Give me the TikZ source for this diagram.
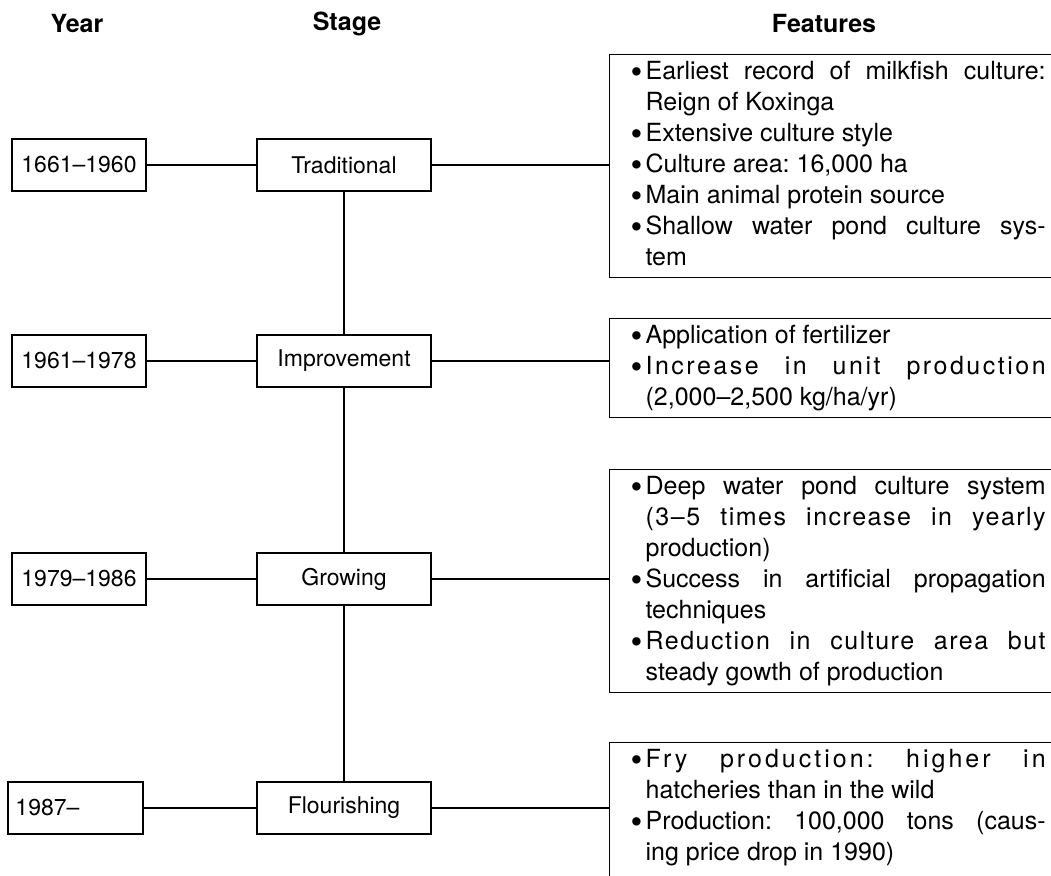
\documentclass[tikz,border=0pt]{standalone}
\usepackage{fontspec}
\setmainfont{TeX Gyre Heros}
\frenchspacing

% feature lines: bullet column + fixed-width (justified or ragged) line
\newlength\featw
\setlength\featw{400pt}
\newcommand\bul{\makebox[15pt][l]{\raisebox{-4.5pt}{\scalebox{1.35}{\textbullet}}}}
\newcommand\itm[2][s]{\bul\makebox[\featw][#1]{\strut #2}}
\newcommand\cnt[2][s]{\makebox[15pt]{}\makebox[\featw][#1]{\strut #2}}
\newcommand\spaced[2]{{\addfontfeature{LetterSpace=#1}#2}}

\tikzset{
  rule/.style={line width=1.3pt, black},
  yearbox/.style={rule, draw, rectangle, minimum width=134pt, minimum height=52pt,
    inner sep=0pt, font=\fontsize{23}{28}\selectfont},
  stagebox/.style={yearbox, minimum width=174pt},
  featbox/.style={rule, draw, rectangle, anchor=north west, align=left,
    inner xsep=21pt, inner ysep=3pt, font=\fontsize{25}{31}\selectfont},
  head/.style={font=\bfseries\fontsize{25}{30}\selectfont, inner sep=0pt},
}

\begin{document}
\begin{tikzpicture}[x=1pt, y=-1pt]
  \useasboundingbox (0,0) rectangle (1051,875);
  \fill[white] (0,0) rectangle (1051,875);
  \clip (0,0) rectangle (1051,875);

  % column headings
  \node[head] (hyear)  at (77,24)  {Year};
  \node[head] (hstage) at (347,24) {Stage};
  \node[head] (hfeat)  at (824,24) {Features};

  % year boxes
  \node[yearbox] (y1) at (79,165) {1661–1960};
  \node[yearbox] (y2) at (79,361) {1961–1978};
  \node[yearbox] (y3) at (79,579) {1979–1986};
  \node[yearbox, minimum width=135pt] (y4) at (75.5,808) {\makebox[120pt][l]{1987–}};

  % stage boxes
  \node[stagebox] (s1) at (344,165) {Traditional};
  \node[stagebox] (s2) at (344,361) {Improvement};
  \node[stagebox] (s3) at (344,579) {Growing};
  \node[stagebox] (s4) at (344,808) {Flourishing};

  % feature boxes (open to the right)
  \node[featbox] (f1) at (609,54) {%
    \itm{Earliest record of milkfish culture:}\\
    \cnt[l]{Reign of Koxinga}\\
    \itm[l]{Extensive culture style}\\
    \itm[l]{Culture area: 16,000 ha}\\
    \itm[l]{Main animal protein source}\\
    \itm{Shallow water pond culture sys-}\\
    \cnt[l]{tem}};

  \node[featbox] (f2) at (609,318) {%
    \itm[l]{Application of fertilizer}\\
    \itm{\spaced{10}{Increase in unit production}}\\
    \cnt[l]{(2,000–2,500 kg/ha/yr)}};

  \node[featbox] (f3) at (609,469) {%
    \itm{Deep water pond culture system}\\
    \cnt{\spaced{6}{(3–5 times increase in yearly}}\\
    \cnt[l]{production)}\\
    \itm{Success in artificial propagation}\\
    \cnt[l]{techniques}\\
    \itm{\spaced{6}{Reduction in culture area but}}\\
    \cnt[l]{steady gowth of production}};

  \node[featbox] (f4) at (609,742) {%
    \itm{\spaced{12}{Fry production: higher in}}\\
    \cnt[l]{hatcheries than in the wild}\\
    \itm{Production: 100,000 tons (caus-}\\
    \cnt[l]{ing price drop in 1990)\rule[-40pt]{0pt}{0pt}}};

  % year to stage links
  \draw[rule] (y1) -- (s1);
  \draw[rule] (y2) -- (s2);
  \draw[rule] (y3) -- (s3);
  \draw[rule] (y4) -- (s4);

  % stage trunk
  \draw[rule] (s1) -- (s2);
  \draw[rule] (s2) -- (s3);
  \draw[rule] (s3) -- (s4);

  % stage to features links
  \draw[rule] (s1) -- (s1 -| f1.west);
  \draw[rule] (s2) -- (s2 -| f2.west);
  \draw[rule] (s3) -- (s3 -| f3.west);
  \draw[rule] (s4) -- (s4 -| f4.west);
\end{tikzpicture}
\end{document}
